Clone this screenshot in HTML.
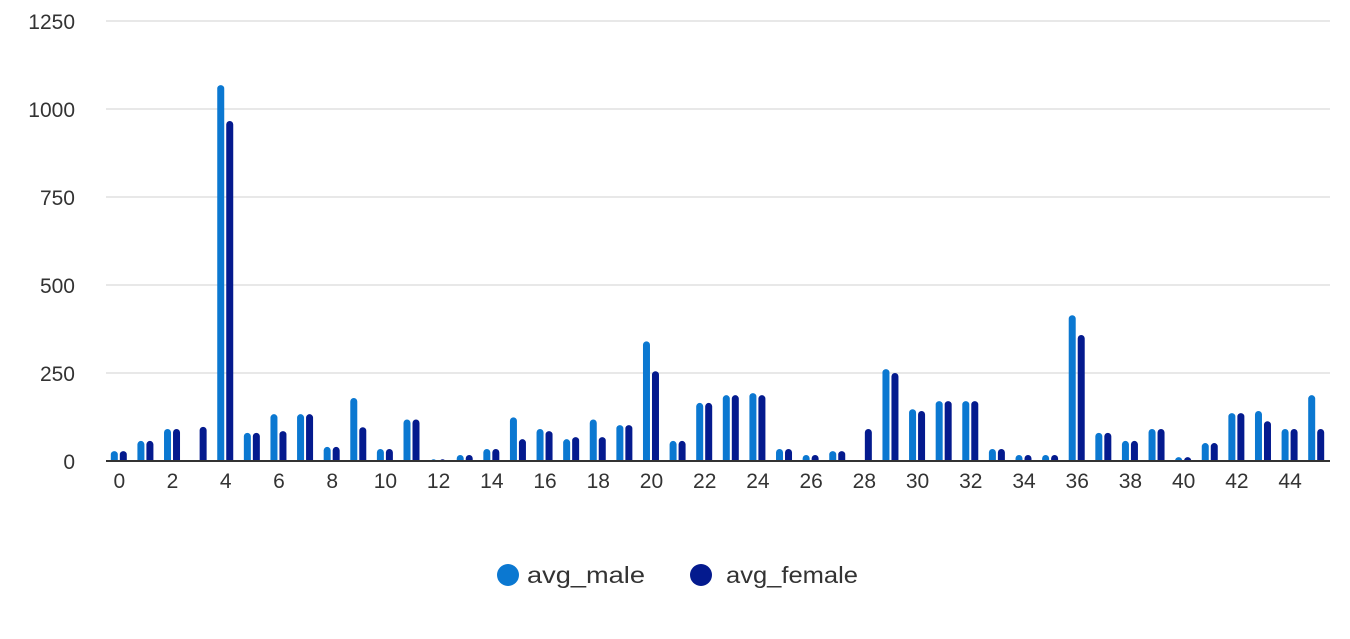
<!DOCTYPE html>
<html><head><meta charset="utf-8"><style>
body{margin:0;background:#fff;font-family:"Liberation Sans",sans-serif}
svg text{font-family:"Liberation Sans",sans-serif;fill:#333}
</style></head><body>
<svg width="1350" height="634">
<defs><clipPath id="plotclip"><rect x="0" y="0" width="1350" height="461"/></clipPath></defs>
<g id="grid"></g><g id="bars" clip-path="url(#plotclip)"></g><g id="axis"></g><g id="xt"></g>
<g>
<circle cx="508" cy="575" r="11" fill="#0B78D1"/>
<text x="527" y="583" font-size="23" textLength="118" lengthAdjust="spacingAndGlyphs">avg_male</text>
<circle cx="701" cy="575" r="11" fill="#041A8E"/>
<text x="726" y="583" font-size="23" textLength="132" lengthAdjust="spacingAndGlyphs">avg_female</text>
</g>
</svg>
<script>
const categories=[...Array(46).keys()];
const avgMale=[28,57,91,0,1068,80,133,133,40,179,34,118,5,17,34,124,91,62,118,102,340,57,165,187,193,34,17,28,0,261,147,170,170,34,17,17,414,80,57,91,11,51,136,142,91,187];
const avgFemale=[28,57,91,97,966,80,85,133,40,96,34,118,5,17,34,62,85,68,68,102,255,57,165,187,187,34,17,28,91,250,142,170,170,34,17,17,358,80,57,91,11,51,136,113,91,91];
const yTicks=[0,250,500,750,1000,1250];
const NS='http://www.w3.org/2000/svg';
const x0=106,x1=1330,yb=461,yt=21,ymax=1250;
const step=(x1-x0)/categories.length;
const y=v=>yb-(v/ymax)*(yb-yt);
const xc=i=>x0+step*(i+0.5);
function mk(t,a,p){const e=document.createElementNS(NS,t);for(const k in a)e.setAttribute(k,a[k]);p.appendChild(e);return e;}
const g=document.getElementById('grid');
yTicks.forEach(t=>{
 if(t>0){const l=mk('line',{x1:x0,x2:x1,y1:y(t),y2:y(t),stroke:'#e0e0e0','stroke-width':1.5},g);
 
 }
 const tx=mk('text',{x:75,y:y(t)+8,'font-size':21,'text-anchor':'end'},g);tx.textContent=t;
 
 
});
const b=document.getElementById('bars');
function bar(cx,v,col,nm){
 if(v<=0)return;
 const h=yb-y(v);
 const r=mk('rect',{x:cx-3.5,y:y(v),width:7,height:h+5,rx:3.5,fill:col},b);
 
 
}
categories.forEach((c,i)=>{
 bar(xc(i)-5,avgMale[i],'#0B78D1','bar-male-'+c);
 bar(xc(i)+4,avgFemale[i],'#041A8E','bar-female-'+c);
});
const ax=mk('line',{x1:x0,x2:x1,y1:yb,y2:yb,stroke:'#333','stroke-width':2},document.getElementById('axis'));


const xt=document.getElementById('xt');
categories.forEach((c,i)=>{if(c%2)return;
 const t=mk('text',{x:xc(i),y:488,'font-size':21,'text-anchor':'middle'},xt);t.textContent=c;
 
 
});
</script>
</body></html>
